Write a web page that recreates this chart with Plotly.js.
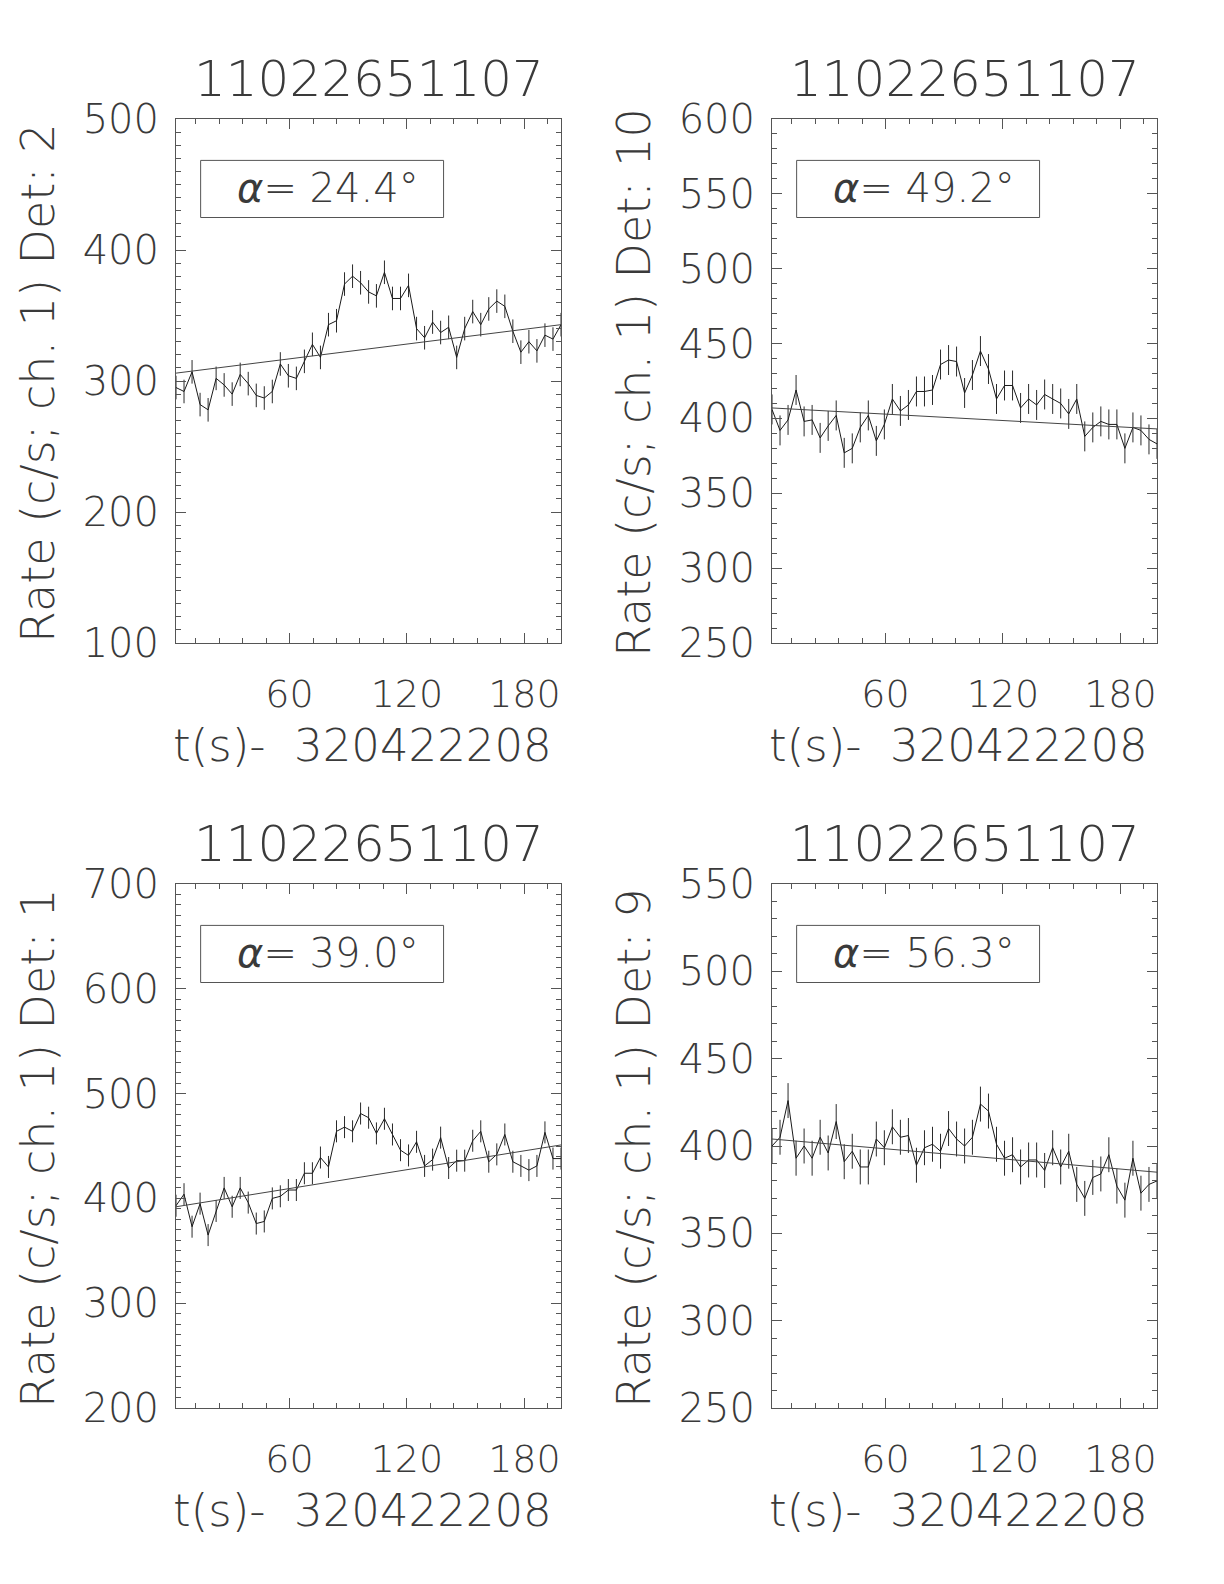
<!DOCTYPE html>
<html><head><meta charset="utf-8">
<script src="https://cdn.plot.ly/plotly-3.0.1.min.js"></script>
<style>html,body{margin:0;padding:0;background:#fff}</style>
</head><body>
<div id="chart" style="width:1224px;height:1584px"></div>
<script>
// time of each bin centre, seconds after 320422208
const times = [2.0, 6.1, 10.2, 14.3, 18.4, 22.5, 26.6, 30.7, 34.8, 38.9, 43.0, 47.1, 51.2, 55.3, 59.4,
  63.5, 67.6, 71.7, 75.8, 79.9, 84.0, 88.1, 92.2, 96.3, 100.4, 104.4, 108.5, 112.6, 116.7, 120.8,
  124.9, 129.0, 133.1, 137.2, 141.3, 145.4, 149.5, 153.6, 157.7, 161.8, 165.9, 170.0, 174.1, 178.2,
  182.3, 186.4, 190.5, 194.6, 198.7];

const rateDet2 = [295, 292, 307, 282, 278, 302, 297, 290, 305, 298, 289, 287, 292, 313, 304, 302, 315, 328,
  318, 343, 346, 374, 380, 375, 368, 365, 383, 363, 363, 373, 340, 333, 345, 337, 341, 318, 340, 353,
  343, 355, 361, 357, 338, 322, 330, 323, 335, 332, 343];
const rateDet10 = [406, 392, 399, 419, 398, 399, 387, 395, 402, 377, 380, 394, 402, 385, 396, 413, 405, 409,
  418, 418, 419, 436, 439, 438, 417, 429, 445, 433, 413, 422, 422, 407, 413, 409, 416, 413, 410, 403,
  413, 388, 394, 398, 396, 396, 380, 394, 392, 386, 383];
const rateDet1 = [393, 404, 373, 395, 365, 388, 410, 392, 410, 396, 376, 378, 400, 402, 408, 408, 424, 424,
  439, 430, 464, 468, 464, 481, 477, 462, 476, 461, 446, 441, 454, 431, 437, 458, 429, 436, 436, 455,
  464, 435, 442, 461, 435, 431, 427, 431, 463, 438, 438];
const rateDet9 = [400, 405, 426, 393, 400, 393, 405, 396, 414, 391, 397, 388, 388, 404, 399, 411, 405, 406,
  389, 399, 401, 397, 410, 404, 400, 405, 424, 420, 401, 393, 395, 388, 392, 392, 386, 399, 388, 397,
  378, 370, 382, 384, 395, 377, 369, 393, 373, 378, 380];

// one-sigma error of each panel (c/s)
const errDet = [9, 10, 10.5, 10];
// background fit: value at first and last time
const fitDet2 = [306, 343];
const fitDet10 = [407, 393];
const fitDet1 = [392, 451];
const fitDet9 = [404, 385];

const detectors = ['2', '10', '1', '9'];
const angles = ['24.4', '49.2', '39.0', '56.3'];
const yRanges = [[100, 500], [250, 600], [200, 700], [250, 550]];
const yMajor = [100, 50, 100, 50];
const titleText = '11022651107';
const xTitleText = 't(s)-\u00a0 320422208';

const rates = [rateDet2, rateDet10, rateDet1, rateDet9];
const fits = [fitDet2, fitDet10, fitDet1, fitDet9];

const W = 1224, H = 1584;
const xDomains = [[176 / W, 561 / W], [772 / W, 1157 / W], [176 / W, 561 / W], [772 / W, 1157 / W]];
const yDomains = [[1 - 643 / H, 1 - 119 / H], [1 - 643 / H, 1 - 119 / H], [1 - 1408 / H, 1 - 884 / H], [1 - 1408 / H, 1 - 884 / H]];

const FONT = 'DejaVu Sans';
const WEIGHT = 200;
const TXT = '#3a3a3a';
const AX = '#555';
const traces = [];
const layout = {
  width: W, height: H, margin: {l: 0, r: 0, t: 0, b: 0},
  paper_bgcolor: '#fff', plot_bgcolor: '#fff', showlegend: false,
  font: {family: FONT, weight: WEIGHT, color: TXT},
  annotations: [], shapes: []
};

for (let p = 0; p < 4; p++) {
  const s = p === 0 ? '' : String(p + 1);
  const xa = 'x' + s, ya = 'y' + s;
  traces.push({
    x: times, y: rates[p], xaxis: xa, yaxis: ya, type: 'scatter', mode: 'lines',
    line: {color: '#1a1a1a', width: 1},
    error_y: {type: 'constant', value: errDet[p], color: '#2a2a2a', thickness: 1, width: 0}
  });
  traces.push({
    x: [times[0], times[times.length - 1]], y: fits[p], xaxis: xa, yaxis: ya,
    type: 'scatter', mode: 'lines', line: {color: '#444', width: 1}
  });
  layout['xaxis' + s] = {
    domain: xDomains[p], anchor: ya, range: [times[0], times[times.length - 1]],
    tick0: 0, dtick: 60, ticks: 'inside', ticklen: 10, tickwidth: 1, tickcolor: AX,
    showline: true, linecolor: AX, linewidth: 1, mirror: 'allticks',
    showgrid: false, zeroline: false,
    minor: {ticks: 'inside', tick0: 0, dtick: 12, ticklen: 5, tickwidth: 1, tickcolor: AX, showgrid: false},
    tickfont: {family: FONT, weight: WEIGHT, size: 38, color: TXT},
    ticklabelstandoff: 17
  };
  layout['yaxis' + s] = {
    domain: yDomains[p], anchor: xa, range: yRanges[p],
    tick0: 0, dtick: yMajor[p], ticks: 'inside', ticklen: 10, tickwidth: 1, tickcolor: AX,
    showline: true, linecolor: AX, linewidth: 1, mirror: 'allticks',
    showgrid: false, zeroline: false,
    minor: {ticks: 'inside', tick0: 0, dtick: 10, ticklen: 5, tickwidth: 1, tickcolor: AX, showgrid: false},
    tickfont: {family: FONT, weight: WEIGHT, size: 40, color: TXT},
    ticklabelstandoff: 8
  };
  const xd = xa + ' domain', yd = ya + ' domain';
  layout.annotations.push({
    xref: xd, yref: yd, x: 0.5, y: 1.076, xanchor: 'center', yanchor: 'middle', showarrow: false,
    text: titleText, font: {family: FONT, weight: WEIGHT, size: 50, color: TXT}
  });
  layout.annotations.push({
    xref: xd, yref: yd, x: 0.485, y: -0.196, xanchor: 'center', yanchor: 'middle', showarrow: false,
    text: xTitleText, font: {family: FONT, weight: WEIGHT, size: 45, color: TXT}
  });
  layout.annotations.push({
    xref: xd, yref: yd, x: -0.36, y: 0.497, xanchor: 'center', yanchor: 'middle', showarrow: false,
    textangle: -90, text: 'Rate (c/s; ch. 1) Det: ' + detectors[p],
    font: {family: FONT, weight: WEIGHT, size: 46, color: TXT}
  });
  layout.annotations.push({
    xref: xd, yref: yd, x: 0.394, y: 0.868, xanchor: 'center', yanchor: 'middle', showarrow: false,
    text: '<i>α</i>= ' + angles[p] + '°', font: {family: FONT, weight: WEIGHT, size: 40, color: TXT}
  });
  layout.shapes.push({
    type: 'rect', xref: xd, yref: yd, x0: 0.064, x1: 0.695, y0: 0.812, y1: 0.921,
    line: {color: AX, width: 1}, fillcolor: 'rgba(0,0,0,0)'
  });
}

Plotly.newPlot('chart', traces, layout, {staticPlot: true, displayModeBar: false});
</script>
</body></html>
